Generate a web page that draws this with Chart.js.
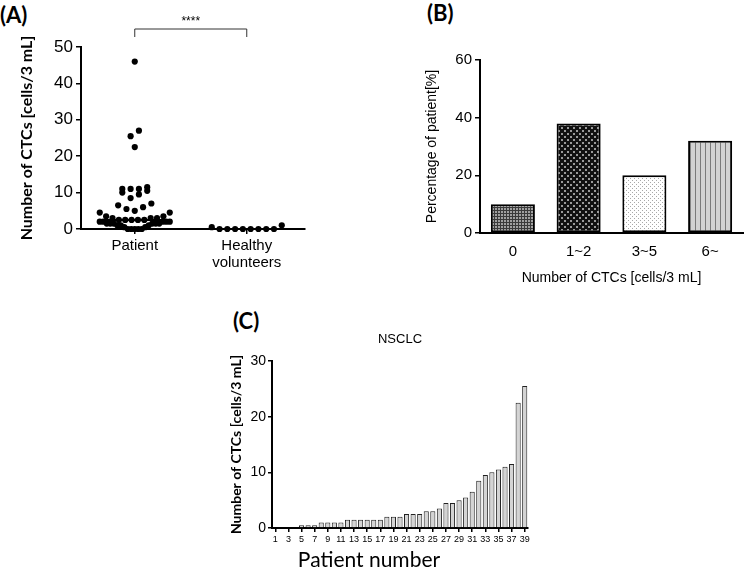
<!DOCTYPE html>
<html>
<head>
<meta charset="utf-8">
<script src="https://cdn.jsdelivr.net/npm/chart.js@4.4.1/dist/chart.umd.min.js"></script>
<style>
  body { margin: 0; background: #fff; }
  #page { position: relative; width: 745px; height: 569px; overflow: hidden; }
  .panel { position: absolute; }
  .tag { position: absolute; font: bold 22px Lato, sans-serif; line-height: 1; color: #000; }
</style>
</head>
<body>
<div id="page">
  <div class="tag" style="left:0px; top:4px;">(A)</div>
  <div class="tag" style="left:427px; top:2px;">(B)</div>
  <div class="tag" style="left:233px; top:310px;">(C)</div>
  <canvas id="chartA" class="panel" width="320" height="275" style="left:0px; top:0px;"></canvas>
  <canvas id="chartB" class="panel" width="365" height="290" style="left:380px; top:0px;"></canvas>
  <canvas id="chartC" class="panel" width="320" height="269" style="left:225px; top:300px;"></canvas>
</div>
<script>
// (A) CTC counts per subject
const groupLabels = ['Patient', ['Healthy', 'volunteers']];
const patientCTC = [46, 27, 25.5, 22.5, 11.5, 11, 11, 11, 10.5, 10, 9.5, 8.5, 7, 6.5, 6, 5.5, 5,
  4.5, 4.5, 3.5, 3.5, 3, 3, 3, 2.5, 2.5, 2.5, 2.5, 2.5, 2, 2, 2, 2, 2,
  1.5, 1.5, 1.5, 1.5, 1.5, 1.5, 1, 1, 1, 0.5, 0.5, 0, 0, 0, 0, 0];
const healthyCTC = [0.5, 0, 0, 0, 0, 0, 0, 0, 0, 1];
const yTicksA = [0, 10, 20, 30, 40, 50];

// (B) distribution of patients
const rangeLabels = ['0', '1~2', '3~5', '6~'];
const rangePercent = [10, 38, 20, 32];
const yTicksB = [0, 20, 40, 60];

// (C) NSCLC patients
const patientNumbers = ['1','2','3','4','5','6','7','8','9','10','11','12','13','14','15','16','17','18','19','20',
  '21','22','23','24','25','26','27','28','29','30','31','32','33','34','35','36','37','38','39'];
const nsclcCTC = [0, 0, 0, 0, 0.5, 0.5, 0.5, 1, 1, 1, 1, 1.5, 1.5, 1.5, 1.5, 1.5, 1.5, 2, 2, 2,
  2.5, 2.5, 2.5, 3, 3, 3.5, 4.5, 4.5, 5, 5.5, 6.5, 8.5, 9.5, 10, 10.5, 11, 11.5, 22.5, 25.5];
const yTicksC = [0, 10, 20, 30];

const arial = 'Liberation Sans, Arial, sans-serif';
const calibri = 'Lato, sans-serif';

// Prism-style column scatter: points grouped in rows, spread sideways from the centre
function columnScatter(values, center, pxX, rowH, maxW, gap) {
  const order = values.map((v, i) => i).sort((a, b) => values[a] - values[b]);
  const out = new Array(values.length);
  let k = 0;
  while (k < order.length) {
    const start = values[order[k]];
    const row = [];
    while (k < order.length && values[order[k]] < start + rowH) row.push(order[k++]);
    const n = row.length;
    const s = n > 1 ? Math.min(gap, maxW / (n - 1)) : 0;
    const slots = [];
    for (let j = 0; j < n; j++) slots.push((j - (n - 1) / 2) * s);
    slots.sort((a, b) => Math.abs(a) - Math.abs(b) || a - b);
    row.forEach((idx, j) => { out[idx] = { x: center + slots[j] / pxX, y: values[idx] }; });
  }
  return out;
}

function median(arr) {
  const s = arr.slice().sort((a, b) => a - b);
  const m = Math.floor(s.length / 2);
  return s.length % 2 ? s[m] : (s[m - 1] + s[m]) / 2;
}

function axisGrid(len) {
  return { display: true, drawOnChartArea: false, drawTicks: true, tickLength: len, color: '#000', lineWidth: 1.5 };
}

// bracket with stars above the two groups
const bracketPlugin = {
  id: 'bracket',
  afterDraw(chart) {
    const { ctx, chartArea } = chart;
    const x = chart.scales.x;
    const x0 = x.getPixelForValue(0), x1 = x.getPixelForValue(1);
    const top = chartArea.top - 18, foot = top + 8;
    ctx.save();
    ctx.strokeStyle = '#333';
    ctx.lineWidth = 1;
    ctx.beginPath();
    ctx.moveTo(x0, foot); ctx.lineTo(x0, top); ctx.lineTo(x1, top); ctx.lineTo(x1, foot);
    ctx.stroke();
    ctx.fillStyle = '#000';
    ctx.font = '12px ' + arial;
    ctx.textAlign = 'center';
    ctx.textBaseline = 'middle';
    ctx.fillText('****', (x0 + x1) / 2, top - 7);
    ctx.restore();
  }
};

const pxX = 224 / 2;
const medP = median(patientCTC), medH = median(healthyCTC);

new Chart(document.getElementById('chartA'), {
  type: 'scatter',
  data: {
    datasets: [
      { data: columnScatter(patientCTC, 0, pxX, 2.1, 70, 8.3), backgroundColor: '#000', borderWidth: 0, pointRadius: 3.1, clip: false },
      { data: columnScatter(healthyCTC, 1, pxX, 2.1, 70, 8.3), backgroundColor: '#000', borderWidth: 0, pointRadius: 3.1, clip: false },
      { data: [{ x: -0.33, y: medP }, { x: 0.33, y: medP }], showLine: true, borderColor: '#000', borderWidth: 2, pointRadius: 0 },
      { data: [{ x: 0.69, y: medH }, { x: 1.31, y: medH }], showLine: true, borderColor: '#000', borderWidth: 2, pointRadius: 0 }
    ]
  },
  options: {
    responsive: false,
    animation: false,
    devicePixelRatio: 1,
    layout: { padding: { top: 47, right: 15, left: 0, bottom: 0 } },
    plugins: { legend: { display: false }, tooltip: { enabled: false } },
    scales: {
      x: {
        type: 'linear', min: -0.48, max: 1.52,
        afterBuildTicks: s => { s.ticks = groupLabels.map((l, i) => ({ value: i })); },
        ticks: { callback: (v, i) => groupLabels[i], color: '#000', padding: 3, maxRotation: 0,
          font: { family: arial, size: 15, lineHeight: 1.15 } },
        grid: axisGrid(5),
        border: { color: '#000', width: 2 },
        afterFit: s => { s.height = 46; }
      },
      y: {
        min: 0, max: 50,
        afterBuildTicks: s => { s.ticks = yTicksA.map(v => ({ value: v })); },
        ticks: { color: '#000', padding: 3, font: { family: arial, size: 17 } },
        grid: axisGrid(5),
        border: { color: '#000', width: 2 },
        title: { display: true, text: 'Number of CTCs [cells/3 mL]', color: '#000',
          font: { family: calibri, size: 16, weight: 'bold' }, padding: { top: 17, bottom: 0 } },
        afterFit: s => { s.width = 81; }
      }
    }
  },
  plugins: [bracketPlugin]
});

// fill patterns for panel B
function pattern(w, h, draw) {
  const c = document.createElement('canvas');
  c.width = w; c.height = h;
  draw(c.getContext('2d'));
  return c.getContext('2d').createPattern(c, 'repeat');
}
const fills = [
  pattern(3, 3, g => { g.fillStyle = '#a0a0a0'; g.fillRect(0, 0, 3, 3); g.fillStyle = '#3a3a3a'; g.fillRect(0, 0, 1, 3); g.fillRect(0, 0, 3, 1); }),
  pattern(6, 6, g => { g.fillStyle = '#111'; g.fillRect(0, 0, 6, 6); g.fillStyle = '#9a9a9a'; g.fillRect(1, 1, 2, 2); g.fillRect(4, 4, 2, 2); }),
  pattern(4, 4, g => { g.fillStyle = '#fff'; g.fillRect(0, 0, 4, 4); g.fillStyle = '#a8a8a8'; g.fillRect(0, 0, 1, 1); g.fillRect(2, 2, 1, 1); }),
  pattern(5, 1, g => { g.fillStyle = '#d2d2d2'; g.fillRect(0, 0, 5, 1); g.fillStyle = '#7a7a7a'; g.fillRect(0, 0, 1, 1); })
];

new Chart(document.getElementById('chartB'), {
  type: 'bar',
  data: {
    labels: rangeLabels,
    datasets: [{ data: rangePercent, backgroundColor: fills, borderColor: '#000', borderWidth: 2,
      borderSkipped: false, categoryPercentage: 1, barPercentage: 0.67 }]
  },
  options: {
    responsive: false,
    animation: false,
    devicePixelRatio: 1,
    layout: { padding: { top: 60, right: 2, left: 0, bottom: 0 } },
    plugins: { legend: { display: false }, tooltip: { enabled: false } },
    scales: {
      x: {
        ticks: { color: '#000', padding: 2, font: { family: arial, size: 15 } },
        grid: { display: false },
        border: { color: '#000', width: 2 },
        title: { display: true, text: 'Number of CTCs [cells/3 mL]', color: '#000',
          font: { family: arial, size: 14 }, padding: { top: 0, bottom: 3 } },
        afterFit: s => { s.height = 57; }
      },
      y: {
        min: 0, max: 60,
        afterBuildTicks: s => { s.ticks = yTicksB.map(v => ({ value: v })); },
        ticks: { color: '#000', padding: 3, font: { family: arial, size: 15 } },
        grid: axisGrid(5),
        border: { color: '#000', width: 2 },
        title: { display: true, text: 'Percentage of patient[%]', color: '#000',
          font: { family: arial, size: 14 }, padding: { top: 44, bottom: 0 } },
        afterFit: s => { s.width = 100; }
      }
    }
  }
});

// caption above panel C and its axis name under it
const headPlugin = {
  id: 'head',
  afterDraw(chart) {
    const { ctx, chartArea } = chart;
    ctx.save();
    ctx.fillStyle = '#000';
    ctx.textAlign = 'center';
    ctx.textBaseline = 'middle';
    ctx.font = '13px ' + arial;
    ctx.fillText('NSCLC', (chartArea.left + chartArea.right) / 2, chartArea.top - 22);
    ctx.font = '21px ' + calibri;
    ctx.fillText('Patient number', chartArea.left + 97, chartArea.bottom + 32);
    ctx.restore();
  }
};

new Chart(document.getElementById('chartC'), {
  type: 'bar',
  data: {
    labels: patientNumbers,
    datasets: [{ data: nsclcCTC, backgroundColor: '#d4d4d4', borderColor: '#222', borderWidth: 1,
      borderSkipped: 'start', categoryPercentage: 1, barPercentage: 0.78 }]
  },
  options: {
    responsive: false,
    animation: false,
    devicePixelRatio: 1,
    layout: { padding: { top: 61, right: 17, left: 0, bottom: 0 } },
    plugins: { legend: { display: false }, tooltip: { enabled: false } },
    scales: {
      x: {
        ticks: { color: '#000', padding: 2, autoSkip: false, maxRotation: 0,
          callback: (v, i) => (i % 2 === 0 ? patientNumbers[i] : ''),
          font: { family: arial, size: 9 } },
        grid: { display: true, offset: false, drawOnChartArea: false, tickLength: 4, lineWidth: 1.5,
          tickColor: c => (c.index % 2 === 0 ? '#000' : 'rgba(0,0,0,0)') },
        border: { color: '#000', width: 2 },
        afterFit: s => { s.height = 41; }
      },
      y: {
        min: 0, max: 30,
        afterBuildTicks: s => { s.ticks = yTicksC.map(v => ({ value: v })); },
        ticks: { color: '#000', padding: 2, font: { family: arial, size: 14 } },
        grid: axisGrid(4),
        border: { color: '#000', width: 2 },
        title: { display: true, text: 'Number of CTCs [cells/3 mL]', color: '#000',
          font: { family: calibri, size: 14, weight: 'bold' }, padding: { top: 3, bottom: 0 } },
        afterFit: s => { s.width = 47; }
      }
    }
  },
  plugins: [headPlugin]
});
</script>
</body>
</html>
